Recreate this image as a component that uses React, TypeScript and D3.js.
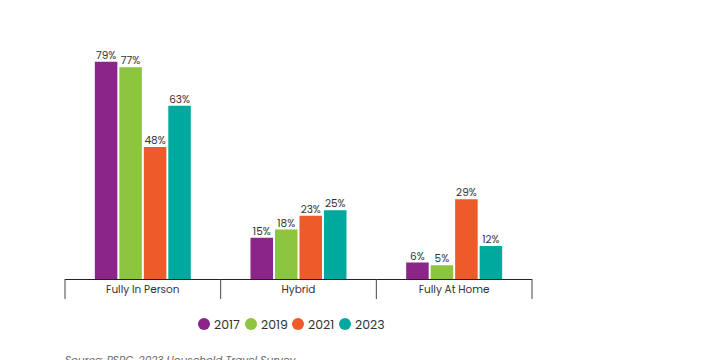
import React from "react";
import * as d3 from "d3";

const categories = ["Fully In Person", "Hybrid", "Fully At Home"];
const years = ["2017", "2019", "2021", "2023"];
const values2017 = [79, 15, 6];
const values2019 = [77, 18, 5];
const values2021 = [48, 23, 29];
const values2023 = [63, 25, 12];
const colors = ["#8B2589", "#8CC63E", "#EE5A29", "#00A99D"];
const sourceText = "Source: PSRC, 2023 Household Travel Survey";

const series = [values2017, values2019, values2021, values2023];

export default function App() {
  const W = 720, H = 360;
  const baseY = 279;
  const x0 = d3.scaleBand<string>().domain(categories).range([65, 532]).padding(0);
  const groupW = 96;
  const x1 = d3.scaleBand<string>().domain(years).range([0, groupW]).paddingInner(0.08).paddingOuter(0);
  const y = d3.scaleLinear().domain([0, 100]).range([baseY, baseY - 275]);
  const font = "Poppins, Lato, 'Open Sans', sans-serif";
  const legendX = d3.scalePoint<string>().domain(years).range([204, 345]);
  const ticks = [...categories.map((c) => x0(c) as number), 532];

  return (
    <svg width={W} height={H} style={{ position: "absolute", left: 0, top: 0, background: "#fff" }}>
      <rect x={0} y={0} width={W} height={H} fill="#fff" />
      {categories.map((c, ci) => {
        const gx = (x0(c) as number) + x0.bandwidth() / 2 - groupW / 2;
        return (
          <g key={c} transform={`translate(${gx},0)`}>
            {years.map((yr, si) => {
              const v = series[si][ci];
              const bx = x1(yr) as number;
              return (
                <g key={yr}>
                  <rect x={bx} y={y(v)} width={x1.bandwidth()} height={baseY - y(v)} fill={colors[si]} />
                  <text
                    x={bx + x1.bandwidth() / 2}
                    y={y(v) - 3}
                    textAnchor="middle"
                    fontSize={10.5}
                    fontFamily={font}
                    fill="#333"
                  >
                    {v}%
                  </text>
                </g>
              );
            })}
          </g>
        );
      })}
      <line x1={65} x2={532} y1={baseY + 0.5} y2={baseY + 0.5} stroke="#222" strokeWidth={1.2} />
      {ticks.map((t, i) => (
        <line key={i} x1={t} x2={t} y1={baseY} y2={299} stroke="#444" strokeWidth={1} />
      ))}
      {categories.map((c) => (
        <text
          key={c}
          x={(x0(c) as number) + x0.bandwidth() / 2}
          y={293}
          textAnchor="middle"
          fontSize={10.5}
          fontFamily={font}
          fill="#333"
        >
          {c}
        </text>
      ))}
      {years.map((yr, i) => (
        <g key={yr}>
          <circle cx={legendX(yr) as number} cy={324} r={6} fill={colors[i]} />
          <text x={(legendX(yr) as number) + 10} y={328.5} fontSize={12.5} fontFamily={font} fill="#333">
            {yr}
          </text>
        </g>
      ))}
      <text x={65} y={364} fontSize={10.5} fontFamily={font} fill="#666" fontStyle="italic">
        {sourceText}
      </text>
    </svg>
  );
}
